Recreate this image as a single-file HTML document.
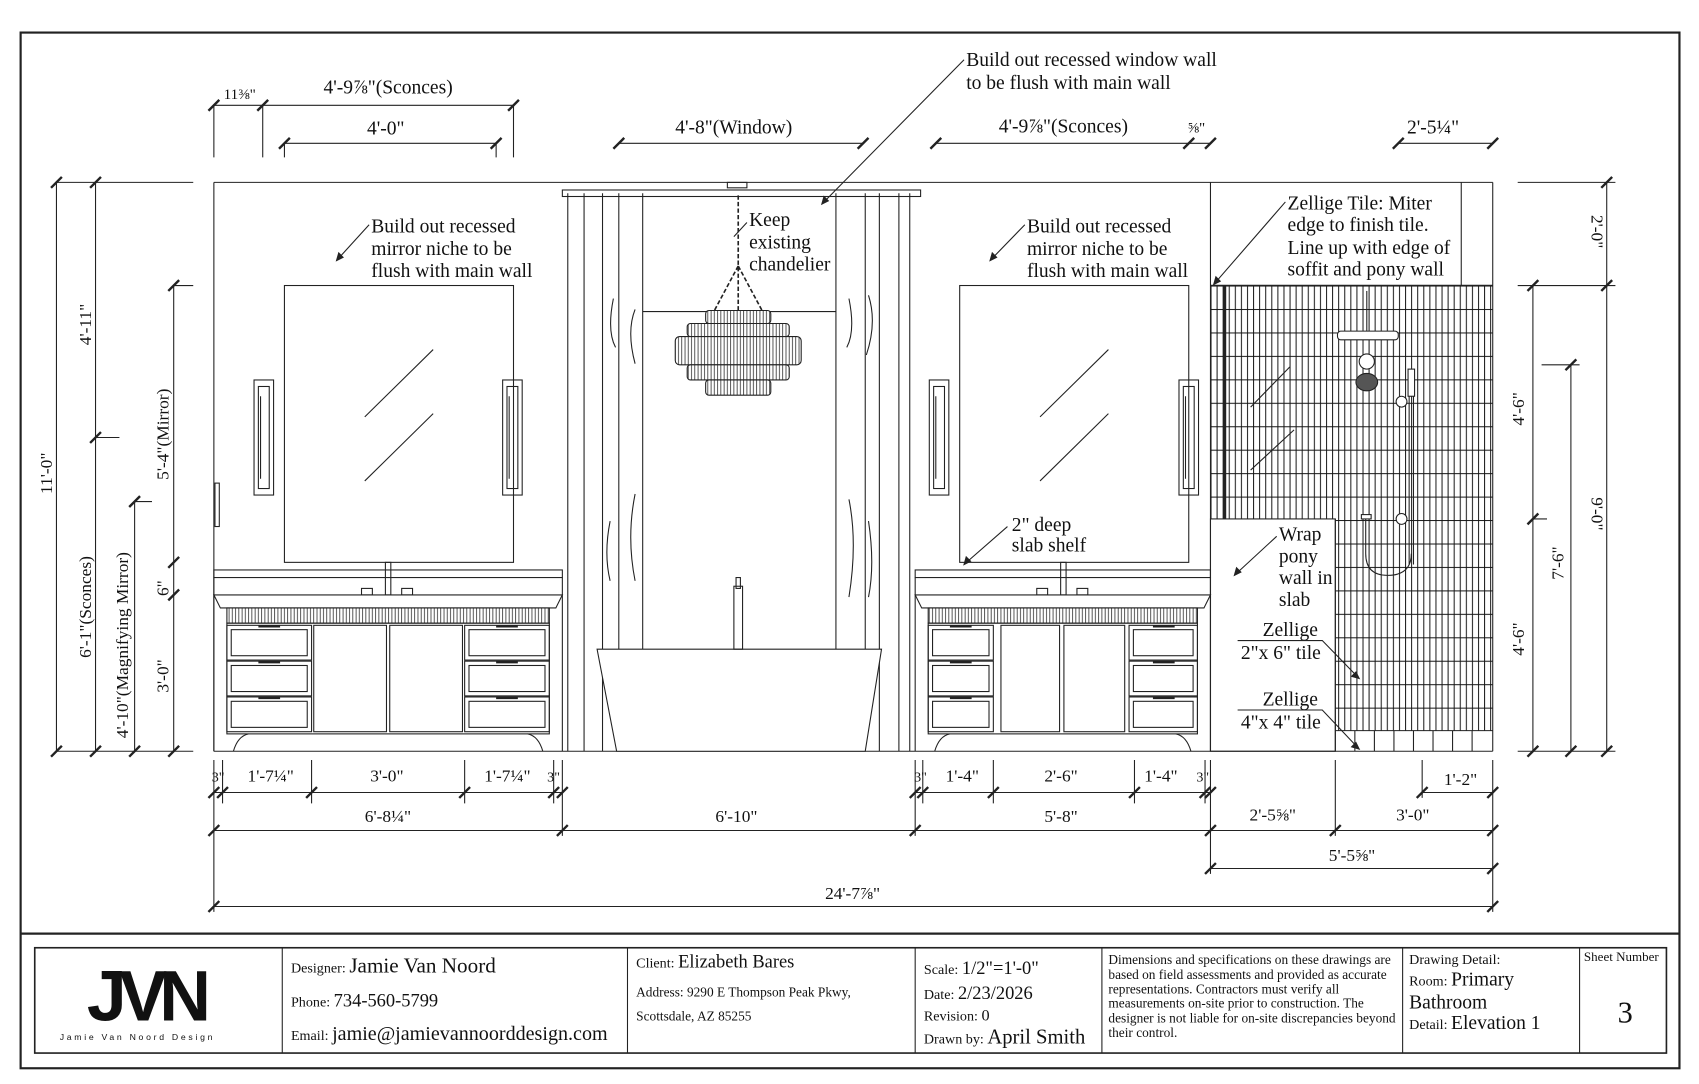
<!DOCTYPE html>
<html><head><meta charset="utf-8"><style>
html,body{margin:0;padding:0;background:#fff;width:1699px;height:1084px;overflow:hidden}
svg{display:block}
text{font-family:"Liberation Serif",serif;fill:#111}
</style></head><body>
<svg width="1699" height="1084" viewBox="0 0 1565 998.5" xmlns="http://www.w3.org/2000/svg" xmlns:xlink="http://www.w3.org/1999/xlink" stroke="#222" fill="none" stroke-width="1">
<defs>
<g id="t"><line x1="-5" y1="5" x2="5" y2="-5" stroke-width="2.2"/></g>
<pattern id="tile" x="1115" y="263" width="5.6" height="21.6" patternUnits="userSpaceOnUse">
<rect width="5.6" height="21.6" fill="#fff" stroke="none"/>
<line x1="0.5" y1="0" x2="0.5" y2="21.6" stroke="#111" stroke-width="0.9"/>
<line x1="0" y1="0.5" x2="5.6" y2="0.5" stroke="#111" stroke-width="0.9"/>
</pattern>
<pattern id="vl" x="0" y="0" width="3" height="10" patternUnits="userSpaceOnUse">
<rect width="3" height="10" fill="#fff" stroke="none"/>
<line x1="1" y1="0" x2="1" y2="10" stroke="#222" stroke-width="0.7"/>
</pattern>
<g id="sc"><rect x="0" y="350" width="18" height="106"/><rect x="4" y="356" width="10" height="94"/><line x1="6" y1="365" x2="6" y2="441"/></g>
</defs>
<!-- frames -->
<rect x="19" y="30" width="1528" height="954" stroke-width="2"/>
<line x1="19" y1="860" x2="1547" y2="860" stroke-width="2"/>
<rect x="32" y="873" width="1503" height="97" stroke-width="1.5"/>
<line x1="260" y1="873" x2="260" y2="970"/><line x1="578" y1="873" x2="578" y2="970"/>
<line x1="843" y1="873" x2="843" y2="970"/><line x1="1015" y1="873" x2="1015" y2="970"/>
<line x1="1292" y1="873" x2="1292" y2="970"/><line x1="1455" y1="873" x2="1455" y2="970"/>
<g stroke="none">
<text x="80" y="940" font-weight="bold" font-size="66" style="font-family:'Liberation Sans',sans-serif;letter-spacing:-7px">JVN</text>
<text x="55" y="958" font-size="8" style="font-family:'Liberation Sans',sans-serif;letter-spacing:2.5px">Jamie Van Noord Design</text>
<text x="268" y="896" font-size="13">Designer: <tspan font-size="19.5">Jamie Van Noord</tspan></text>
<text x="268" y="927" font-size="13">Phone: <tspan font-size="17">734-560-5799</tspan></text>
<text x="268" y="958" font-size="13">Email: <tspan font-size="18.5">jamie@jamievannoorddesign.com</tspan></text>
<text x="586" y="891" font-size="13">Client: <tspan font-size="17">Elizabeth Bares</tspan></text>
<text x="586" y="918" font-size="12.3">Address: 9290 E Thompson Peak Pkwy,</text>
<text x="586" y="940" font-size="12.3">Scottsdale, AZ 85255</text>
<text x="851" y="897" font-size="13">Scale: <tspan font-size="17">1/2"=1'-0"</tspan></text>
<text x="851" y="920" font-size="13">Date: <tspan font-size="17">2/23/2026</tspan></text>
<text x="851" y="940" font-size="13">Revision: <tspan font-size="15">0</tspan></text>
<text x="851" y="961" font-size="13">Drawn by: <tspan font-size="19">April Smith</tspan></text>
<g font-size="12.3"><text x="1021" y="888">Dimensions and specifications on these drawings are</text>
<text x="1021" y="902">based on field assessments and provided as accurate</text>
<text x="1021" y="915">representations. Contractors must verify all</text>
<text x="1021" y="928">measurements on-site prior to construction. The</text>
<text x="1021" y="942">designer is not liable for on-site discrepancies beyond</text>
<text x="1021" y="955">their control.</text></g>
<text x="1298" y="888" font-size="13">Drawing Detail:</text>
<text x="1298" y="908" font-size="13">Room: <tspan font-size="18">Primary</tspan></text>
<text x="1298" y="929" font-size="18">Bathroom</text>
<text x="1298" y="948" font-size="13">Detail: <tspan font-size="18">Elevation 1</tspan></text>
<text x="1459" y="885" font-size="12">Sheet Number</text>
<text x="1490" y="942" font-size="28">3</text>
</g>

<!-- shower tiles -->
<rect x="1115" y="263" width="260" height="410" fill="url(#tile)" stroke="none"/>
<line x1="1115" y1="263" x2="1375" y2="263" stroke-width="1.5"/>
<line x1="1128" y1="263" x2="1128" y2="478" stroke-width="3"/>
<line x1="1230" y1="673" x2="1375" y2="673"/>
<path d="M1248 673V692M1266 673V692M1284 673V692M1302 673V692M1320 673V692M1338 673V692M1356 673V692"/>
<path d="M1152 375 L1188 338 M1152 433 L1192 396"/>
<rect x="1115" y="478" width="115" height="214" fill="#fff"/>

<!-- main walls -->
<line x1="197" y1="168" x2="1375" y2="168"/>
<line x1="197" y1="692" x2="1375" y2="692"/>
<line x1="197" y1="168" x2="197" y2="692"/>
<line x1="1375" y1="168" x2="1375" y2="692"/>
<line x1="1115" y1="168" x2="1115" y2="692"/>
<line x1="1346" y1="168" x2="1346" y2="263"/>
<line x1="523" y1="178" x2="523" y2="692"/>
<line x1="838" y1="178" x2="838" y2="692"/>
<rect x="198" y="445" width="4" height="40"/>

<!-- mirrors -->
<rect x="262" y="263" width="211" height="255"/>
<line x1="336" y1="384" x2="399" y2="322"/><line x1="336" y1="443" x2="399" y2="381"/>
<rect x="884" y="263" width="211" height="255"/>
<line x1="958" y1="384" x2="1021" y2="322"/><line x1="958" y1="443" x2="1021" y2="381"/>
<use xlink:href="#sc" x="234"/><use xlink:href="#sc" x="463"/><use xlink:href="#sc" x="856"/><use xlink:href="#sc" x="1086"/>

<!-- window / curtains -->
<rect x="518" y="175" width="330" height="6"/>
<rect x="670" y="168" width="18" height="5"/>
<line x1="538" y1="178" x2="538" y2="692"/><line x1="555" y1="178" x2="555" y2="692"/>
<line x1="570" y1="178" x2="570" y2="598"/><line x1="592" y1="178" x2="592" y2="598"/>
<line x1="770" y1="178" x2="770" y2="598"/><line x1="797" y1="178" x2="797" y2="598"/>
<line x1="810" y1="178" x2="810" y2="692"/><line x1="828" y1="178" x2="828" y2="692"/>
<line x1="592" y1="287" x2="770" y2="287"/>
<path d="M585 285 q-8 20 0 50 M565 275 q-6 30 2 45 M585 455 q-8 40 0 80 M562 480 q-6 30 0 55 M782 275 q6 30 -2 45 M800 272 q8 25 -2 55 M782 460 q8 40 0 90 M800 480 q6 40 0 70"/>
<!-- chandelier -->
<path d="M680 180 V286 M680 245 L657 288 M680 245 L703 288" stroke-dasharray="4 2" stroke-width="1.5"/>
<rect x="650" y="286" width="60" height="12" rx="3" fill="url(#vl)"/>
<rect x="633" y="298" width="94" height="12" rx="3" fill="url(#vl)"/>
<rect x="622" y="310" width="116" height="26" rx="4" fill="url(#vl)"/>
<rect x="633" y="336" width="94" height="14" rx="3" fill="url(#vl)"/>
<rect x="650" y="350" width="60" height="14" rx="3" fill="url(#vl)"/>
<!-- tub -->
<path d="M550 598 H812 L797 692 H568 Z" fill="#fff"/>
<rect x="676" y="540" width="8" height="58"/><rect x="678" y="532" width="4" height="10"/>

<!-- vanity 1 -->
<rect x="197" y="525" width="321" height="7"/>
<path d="M197 548 H518 L512 560 H203 Z"/>
<line x1="197" y1="532" x2="197" y2="692"/><line x1="518" y1="532" x2="518" y2="692"/>
<rect x="209" y="560" width="297" height="14" fill="url(#vl)"/>
<rect x="209" y="574" width="297" height="102"/>
<rect x="209" y="576" width="78" height="32"/><rect x="213" y="580" width="70" height="24"/>
<rect x="209" y="609" width="78" height="32"/><rect x="213" y="613" width="70" height="24"/>
<rect x="209" y="642" width="78" height="32"/><rect x="213" y="646" width="70" height="24"/>
<rect x="428" y="576" width="78" height="32"/><rect x="432" y="580" width="70" height="24"/>
<rect x="428" y="609" width="78" height="32"/><rect x="432" y="613" width="70" height="24"/>
<rect x="428" y="642" width="78" height="32"/><rect x="432" y="646" width="70" height="24"/>
<rect x="289" y="576" width="67" height="98"/><rect x="359" y="576" width="67" height="98"/>
<path d="M238 577h20M238 610h20M238 643h20M457 577h20M457 610h20M457 643h20" stroke-width="2"/>
<path d="M215 692 q4 -14 14 -16 M500 692 q-4 -14 -14 -16"/>
<rect x="355" y="518" width="5" height="30"/><rect x="333" y="542" width="10" height="6"/><rect x="370" y="542" width="10" height="6"/>
<!-- vanity 2 -->
<rect x="843" y="525" width="272" height="7"/>
<path d="M843 548 H1115 L1109 560 H849 Z"/>
<line x1="843" y1="532" x2="843" y2="692"/><line x1="1115" y1="532" x2="1115" y2="692"/>
<rect x="855" y="560" width="248" height="14" fill="url(#vl)"/>
<rect x="855" y="574" width="248" height="102"/>
<rect x="855" y="576" width="60" height="32"/><rect x="859" y="580" width="52" height="24"/>
<rect x="855" y="609" width="60" height="32"/><rect x="859" y="613" width="52" height="24"/>
<rect x="855" y="642" width="60" height="32"/><rect x="859" y="646" width="52" height="24"/>
<rect x="1040" y="576" width="63" height="32"/><rect x="1044" y="580" width="55" height="24"/>
<rect x="1040" y="609" width="63" height="32"/><rect x="1044" y="613" width="55" height="24"/>
<rect x="1040" y="642" width="63" height="32"/><rect x="1044" y="646" width="55" height="24"/>
<rect x="922" y="576" width="54" height="98"/><rect x="980" y="576" width="56" height="98"/>
<path d="M875 577h20M875 610h20M875 643h20M1062 577h20M1062 610h20M1062 643h20" stroke-width="2"/>
<path d="M861 692 q4 -14 14 -16 M1097 692 q-4 -14 -14 -16"/>
<rect x="977" y="518" width="5" height="30"/><rect x="955" y="542" width="10" height="6"/><rect x="992" y="542" width="10" height="6"/>

<!-- shower fixtures -->
<line x1="1230" y1="478" x2="1230" y2="692"/>
<line x1="1259" y1="268" x2="1259" y2="305"/>
<rect x="1232" y="305" width="56" height="8" rx="3" fill="#fff"/>
<circle cx="1259" cy="333" r="7" fill="#fff"/>
<ellipse cx="1259" cy="352" rx="10" ry="8" fill="#555"/>
<rect x="1297" y="340" width="6" height="25" fill="#fff"/>
<path d="M1298 365 V520 M1302 365 V520 M1258 478 V510 q0 20 20 20 q22 0 22 -20"/>
<circle cx="1291" cy="370" r="5" fill="#fff"/><circle cx="1291" cy="478" r="5" fill="#fff"/>
<rect x="1254" y="474" width="9" height="4" fill="#fff"/>

<!-- dimensions -->
<path d="M197 97H473M197 97V145M242 97V145M473 97V145M262 132H457M262 132V145M457 132V145M570 132H795M862 132H1115M1288 132H1375
M197 730H518M843 730H1115M1310 730H1375M197 765H1375M1115 800H1375M197 835H1375
M197 700V840M205 700V740M287 700V740M428 700V740M510 700V740M518 700V770M843 700V770M850 700V740M915 700V740M1045 700V740M1110 700V740M1115 700V805M1230 700V770M1375 700V840M1310 700V735
M52 168V692M88 168V692M124 462V692M160 263V692M52 168H178M88 403H110M124 462H140M160 263H178M52 692H178
M1412 263V692M1447 336V692M1480 168V692M1398 168H1488M1398 263H1488M1412 478H1425M1420 336H1455M1398 692H1488"/>
<use xlink:href="#t" x="197" y="97"/><use xlink:href="#t" x="242" y="97"/><use xlink:href="#t" x="473" y="97"/>
<use xlink:href="#t" x="262" y="132"/><use xlink:href="#t" x="457" y="132"/><use xlink:href="#t" x="570" y="132"/><use xlink:href="#t" x="795" y="132"/>
<use xlink:href="#t" x="862" y="132"/><use xlink:href="#t" x="1095" y="132"/><use xlink:href="#t" x="1115" y="132"/><use xlink:href="#t" x="1288" y="132"/><use xlink:href="#t" x="1375" y="132"/>
<use xlink:href="#t" x="197" y="730"/><use xlink:href="#t" x="205" y="730"/><use xlink:href="#t" x="287" y="730"/><use xlink:href="#t" x="428" y="730"/><use xlink:href="#t" x="510" y="730"/><use xlink:href="#t" x="518" y="730"/>
<use xlink:href="#t" x="843" y="730"/><use xlink:href="#t" x="850" y="730"/><use xlink:href="#t" x="915" y="730"/><use xlink:href="#t" x="1045" y="730"/><use xlink:href="#t" x="1110" y="730"/><use xlink:href="#t" x="1115" y="730"/>
<use xlink:href="#t" x="1310" y="730"/><use xlink:href="#t" x="1375" y="730"/>
<use xlink:href="#t" x="197" y="765"/><use xlink:href="#t" x="518" y="765"/><use xlink:href="#t" x="843" y="765"/><use xlink:href="#t" x="1115" y="765"/><use xlink:href="#t" x="1230" y="765"/><use xlink:href="#t" x="1375" y="765"/>
<use xlink:href="#t" x="1115" y="800"/><use xlink:href="#t" x="1375" y="800"/><use xlink:href="#t" x="197" y="835"/><use xlink:href="#t" x="1375" y="835"/>
<use xlink:href="#t" x="52" y="168"/><use xlink:href="#t" x="52" y="692"/><use xlink:href="#t" x="88" y="168"/><use xlink:href="#t" x="88" y="403"/><use xlink:href="#t" x="88" y="692"/>
<use xlink:href="#t" x="124" y="462"/><use xlink:href="#t" x="124" y="692"/><use xlink:href="#t" x="160" y="263"/><use xlink:href="#t" x="160" y="518"/><use xlink:href="#t" x="160" y="548"/><use xlink:href="#t" x="160" y="692"/>
<use xlink:href="#t" x="1412" y="263"/><use xlink:href="#t" x="1412" y="478"/><use xlink:href="#t" x="1412" y="692"/><use xlink:href="#t" x="1447" y="336"/><use xlink:href="#t" x="1447" y="692"/>
<use xlink:href="#t" x="1480" y="168"/><use xlink:href="#t" x="1480" y="263"/><use xlink:href="#t" x="1480" y="692"/>

<!-- labels -->
<g stroke="none" font-size="18">
<text x="206" y="91" font-size="14">11⅜"</text>
<text x="298" y="86">4'-9⅞"(Sconces)</text>
<text x="338" y="124">4'-0"</text>
<text x="622" y="123">4'-8"(Window)</text>
<text x="920" y="122">4'-9⅞"(Sconces)</text>
<text x="1094" y="122" font-size="14">⅝"</text>
<text x="1296" y="123">2'-5¼"</text>
<text x="890" y="61">Build out recessed window wall</text>
<text x="890" y="82">to be flush with main wall</text>
<text x="342" y="214">Build out recessed</text>
<text x="342" y="235">mirror niche  to be</text>
<text x="342" y="255">flush with main wall</text>
<text x="946" y="214">Build out recessed</text>
<text x="946" y="235">mirror niche  to be</text>
<text x="946" y="255">flush with main wall</text>
<text x="690" y="208">Keep</text>
<text x="690" y="229">existing</text>
<text x="690" y="249">chandelier</text>
<text x="1186" y="193">Zellige Tile: Miter</text>
<text x="1186" y="213">edge to finish tile.</text>
<text x="1186" y="234">Line up with edge of</text>
<text x="1186" y="254">soffit and pony wall</text>
<text x="932" y="489">2" deep</text>
<text x="932" y="508">slab shelf</text>
<text x="1178" y="498">Wrap</text>
<text x="1178" y="518">pony</text>
<text x="1178" y="538">wall in</text>
<text x="1178" y="558">slab</text>
<text x="1163" y="586">Zellige</text>
<text x="1143" y="607">2"x 6" tile</text>
<text x="1163" y="650">Zellige</text>
<text x="1143" y="671">4"x 4" tile</text>
<g font-size="16">
<text x="195" y="720" font-size="13">3"</text><text x="228" y="720">1'-7¼"</text><text x="341" y="720">3'-0"</text><text x="446" y="720">1'-7¼"</text><text x="504" y="720" font-size="13">3"</text>
<text x="842" y="720" font-size="13">3"</text><text x="871" y="720">1'-4"</text><text x="962" y="720">2'-6"</text><text x="1054" y="720">1'-4"</text><text x="1102" y="720" font-size="13">3"</text>
<text x="1330" y="723">1'-2"</text>
<text x="336" y="757">6'-8¼"</text><text x="659" y="757">6'-10"</text><text x="962" y="757">5'-8"</text>
<text x="1151" y="756">2'-5⅝"</text><text x="1286" y="756">3'-0"</text>
<text x="1224" y="793">5'-5⅝"</text>
<text x="760" y="828">24'-7⅞"</text>
<text transform="translate(48,455) rotate(-90)">11'-0"</text>
<text transform="translate(84,318) rotate(-90)">4'-11"</text>
<text transform="translate(84,606) rotate(-90)">6'-1"(Sconces)</text>
<text transform="translate(118,680) rotate(-90)">4'-10"(Magnifying Mirror)</text>
<text transform="translate(155,442) rotate(-90)">5'-4"(Mirror)</text>
<text transform="translate(155,549) rotate(-90)">6"</text>
<text transform="translate(155,638) rotate(-90)">3'-0"</text>
<text transform="translate(1466,198) rotate(90)">2'-0"</text>
<text transform="translate(1404,392) rotate(-90)">4'-6"</text>
<text transform="translate(1404,604) rotate(-90)">4'-6"</text>
<text transform="translate(1440,534) rotate(-90)">7'-6"</text>
<text transform="translate(1466,458) rotate(90)">9'-0"</text>
</g>
</g>
<!-- leaders -->
<path d="M340 207 L310 240 M944 207 L912 240 M888 55 L757 188 M688 205 L676 218 M1184 186 L1118 262 M928 485 L888 520 M1176 494 L1137 530 M1140 590 H1218 L1252 625 M1140 654 H1218 L1252 690"/>
<path d="M310 240 l2 -7 l4 4 z M912 240 l2 -7 l4 4 z M757 188 l2 -7 l4 4 z M1118 262 l2 -7 l4 4 z M888 520 l2 -7 l4 4 z M1137 530 l2 -7 l4 4 z M1252 625 l-7 -2 l4 -4 z M1252 690 l-7 -2 l4 -4 z" fill="#222"/>
</svg>
</body></html>
